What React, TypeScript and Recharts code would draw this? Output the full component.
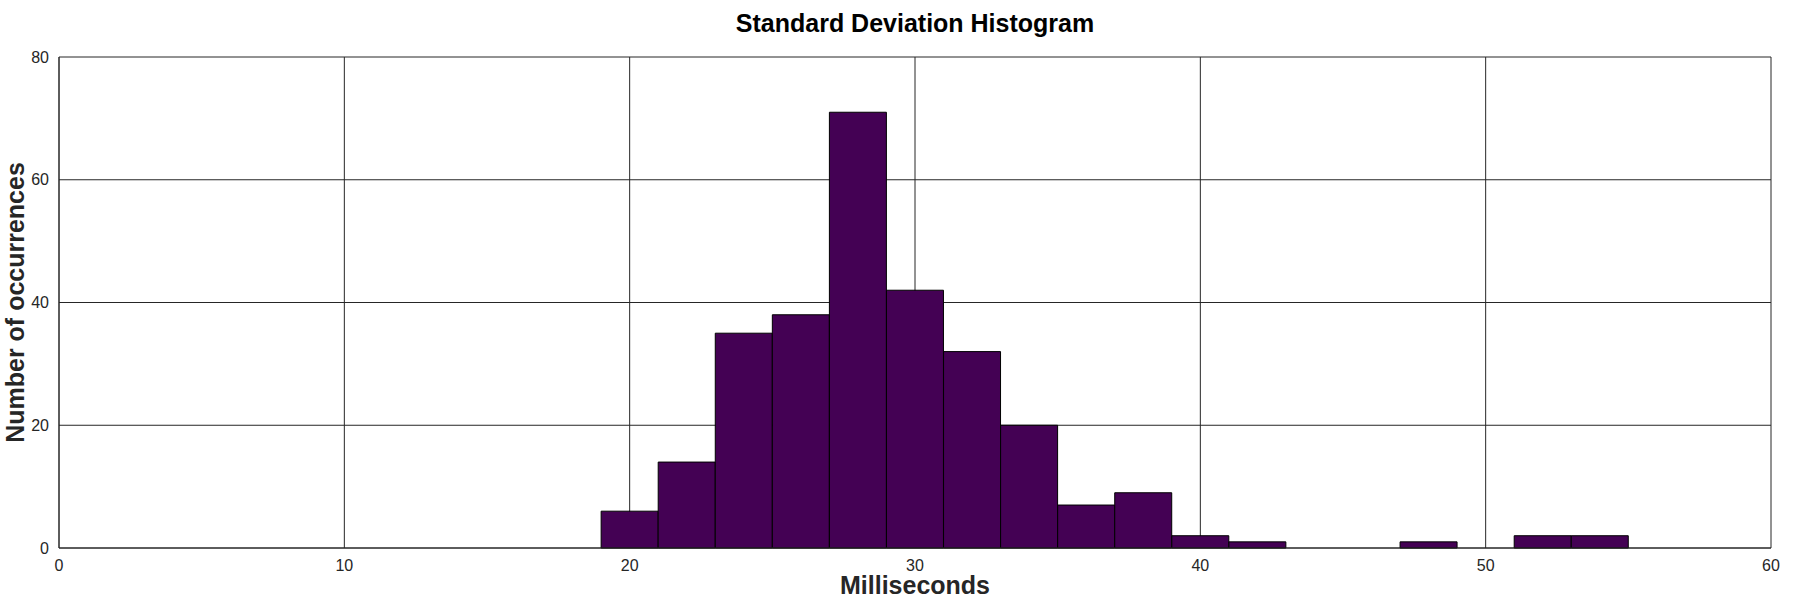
import { BarChart, Bar, XAxis, YAxis, CartesianGrid, Label } from 'recharts'

// histogram bins are 2 ms wide, keyed by their centre
const binCenters = [20, 22, 24, 26, 28, 30, 32, 34, 36, 38, 40, 42, 44, 46, 48, 50, 52, 54]
const counts = [6, 14, 35, 38, 71, 42, 32, 20, 7, 9, 2, 1, 0, 0, 1, 0, 2, 2]
const xTicks = [0, 10, 20, 30, 40, 50, 60]
const yTicks = [0, 20, 40, 60, 80]

const data = binCenters.map((x, i) => ({ x, count: counts[i] }))

const ink = '#262626'
const tickStyle = { fill: ink, fontSize: 16 }

export default function App() {
  return (
    <div
      style={{
        position: 'absolute',
        left: 0,
        top: 0,
        width: 1800,
        height: 600,
        background: '#fff',
        fontFamily: '"Liberation Sans", Arial, sans-serif',
      }}
    >
      <div
        style={{
          position: 'absolute',
          left: 59,
          width: 1712,
          top: 11,
          lineHeight: '25px',
          fontSize: 25,
          fontWeight: 'bold',
          textAlign: 'center',
          color: '#000',
        }}
      >
        Standard Deviation Histogram
      </div>
      <BarChart
        width={1800}
        height={600}
        data={data}
        margin={{ top: 57, right: 29, bottom: 0, left: 0 }}
        barCategoryGap={0}
        barGap={0}
      >
        <CartesianGrid stroke={ink} strokeWidth={1} />
        <XAxis
          dataKey="x"
          type="number"
          domain={[0, 60]}
          ticks={xTicks}
          interval={0}
          height={52}
          tick={tickStyle}
          tickLine={false}
          tickSize={0}
          tickMargin={12}
          axisLine={{ stroke: ink }}
        >
          <Label
            value="Milliseconds"
            position="insideBottom"
            offset={6}
            style={{ fontSize: 25, fontWeight: 'bold', fill: ink }}
          />
        </XAxis>
        <XAxis
          xAxisId="top"
          orientation="top"
          type="number"
          domain={[0, 60]}
          height={0}
          tick={false}
          tickLine={false}
          axisLine={{ stroke: ink }}
        />
        <YAxis
          type="number"
          domain={[0, 80]}
          ticks={yTicks}
          interval={0}
          width={59}
          tick={tickStyle}
          tickLine={false}
          tickSize={0}
          tickMargin={10}
          axisLine={{ stroke: ink }}
        >
          <Label
            value="Number of occurrences"
            angle={-90}
            position="center"
            dx={-14}
            style={{ fontSize: 25, fontWeight: 'bold', fill: ink }}
          />
        </YAxis>
        <YAxis
          yAxisId="right"
          orientation="right"
          type="number"
          domain={[0, 80]}
          width={0}
          tick={false}
          tickLine={false}
          axisLine={{ stroke: ink }}
        />
        <Bar dataKey="count" fill="#440154" stroke="#000" strokeWidth={1} isAnimationActive={false} />
      </BarChart>
    </div>
  )
}
